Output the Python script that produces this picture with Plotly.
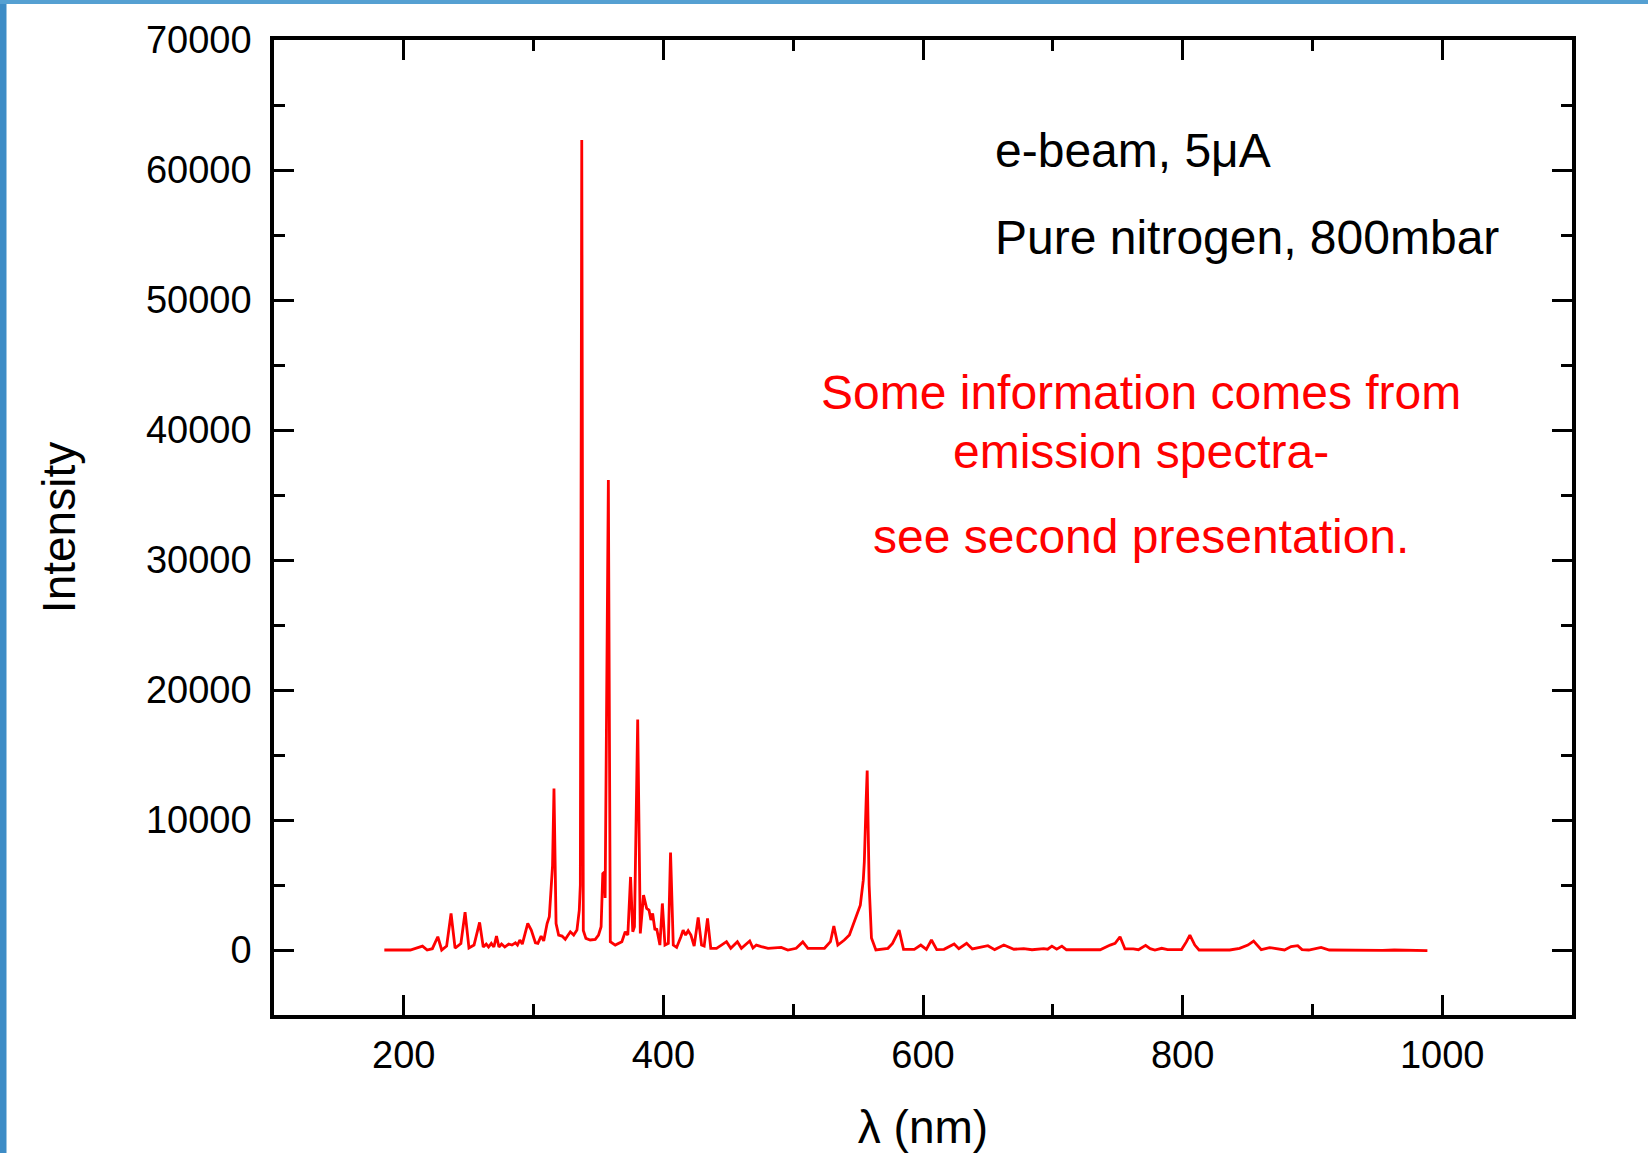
import plotly.graph_objects as go

# Emission spectrum
wavelength_nm = [
    185.0, 195.0, 201.6, 205.0, 214.4, 218.0, 222.0, 226.2, 229.2, 233.0,
    236.4, 239.5, 244.0, 247.2, 250.2, 254.1, 258.4, 261.2, 263.5, 265.3,
    267.4, 269.4, 271.4, 273.3, 275.3, 277.8, 280.8, 283.3, 286.0, 287.6,
    289.4, 291.3, 295.5, 298.2, 301.4, 303.3, 305.8, 307.8, 310.4, 312.1,
    314.6, 315.7, 317.3, 319.3, 321.9, 324.4, 328.3, 330.9, 333.4, 335.2,
    336.0, 337.1, 338.3, 340.3, 343.6, 347.5, 350.0, 352.0, 353.3, 354.6,
    355.1, 357.6, 359.1, 362.9, 368.0, 370.6, 372.6, 374.7, 376.4, 377.7,
    380.2, 382.2, 384.7, 387.1, 388.9, 390.4, 391.7, 393.5, 394.8, 397.3,
    399.2, 401.2, 403.8, 405.5, 407.6, 410.2, 413.5, 415.2, 417.1, 419.1,
    421.2, 423.7, 426.8, 429.4, 431.4, 434.0, 436.5, 440.9, 444.7, 448.6,
    451.9, 457.0, 460.1, 466.5, 469.0, 471.6, 475.4, 480.6, 490.8, 495.9,
    502.3, 507.4, 511.3, 524.1, 528.7, 531.3, 534.4, 539.4, 543.3, 547.7,
    551.7, 554.0, 554.8, 556.2, 557.0, 558.5, 560.3, 563.7, 567.6, 573.0,
    576.5, 581.6, 585.0, 593.3, 598.3, 602.6, 606.5, 610.6, 616.2, 624.0,
    627.6, 633.6, 638.0, 650.0, 655.2, 662.3, 670.0, 677.6, 684.0, 693.0,
    696.0, 699.3, 703.0, 707.0, 710.5, 721.1, 728.0, 736.5, 744.2, 748.0,
    751.8, 755.6, 762.0, 766.0, 771.5, 775.0, 778.7, 783.9, 788.5, 799.2,
    803.0, 805.6, 809.4, 812.7, 836.3, 843.9, 850.3, 854.7, 860.6, 867.0,
    871.0, 878.5, 883.6, 888.7, 892.0, 897.2, 906.7, 913.0, 954.0, 963.0,
    988.6,
]
intensity = [
    0, 0, 30, 0, 300, 0, 100, 1020, 0, 300,
    2810, 150, 500, 2910, 150, 380, 2120, 230, 450, 230,
    510, 230, 1070, 230, 460, 230, 460, 380, 560, 380,
    770, 460, 2040, 1530, 560, 510, 1070, 700, 2040, 2560,
    6500, 12430, 2040, 1150, 1070, 820, 1400, 1150, 1530, 3070,
    5000, 62300, 1500, 890, 770, 820, 1150, 1790, 5880, 6000,
    4000, 36150, 640, 380, 640, 1400, 1150, 5620, 1400, 1790,
    17730, 1280, 4220, 3200, 3070, 2300, 2810, 1530, 1660, 380,
    3580, 380, 510, 7500, 380, 200, 1020, 1530, 1150, 1480,
    1150, 300, 2500, 380, 300, 2430, 130, 130, 380, 640,
    130, 640, 130, 690, 150, 380, 260, 130, 200, 0,
    130, 620, 130, 130, 640, 1840, 380, 770, 1150, 2430,
    3450, 5370, 6800, 11500, 13800, 5000, 920, 0, 50, 130,
    510, 1530, 50, 50, 380, 50, 770, 30, 50, 460,
    100, 510, 80, 330, 30, 380, 60, 100, 20, 100,
    60, 300, 60, 300, 20, 0, 30, 20, 380, 510,
    1020, 80, 80, 20, 360, 100, 0, 130, 30, 30,
    640, 1150, 380, 0, 0, 130, 380, 690, 30, 180,
    130, 0, 260, 330, 30, 0, 200, 0, -30, 0,
    -50,
]

x_range = [100, 1100]
y_range = [-5000, 70000]
x_major = 200
x_minor = 100
y_major = 10000
y_minor = 5000

label_beam = "e-beam, 5μA"
label_gas = "Pure nitrogen, 800mbar"
note_lines = ["Some information comes from", "emission spectra-", "see second presentation."]

FONT = "Liberation Sans, Arial, sans-serif"
W, H = 1648, 1153
L, R, T, B = 274, 76, 40, 138
PW, PH = W - L - R, H - T - B


def px(xp):
    return (xp - L) / PW


def py(yp):
    return (H - B - yp) / PH


fig = go.Figure()
fig.add_trace(go.Scatter(
    x=wavelength_nm, y=intensity, mode="lines",
    line=dict(color="#ff0000", width=2.8), showlegend=False,
    hoverinfo="x+y",
))

axis_common = dict(
    showline=True, linecolor="black", linewidth=3.5, mirror="allticks",
    ticks="inside", tickcolor="black", tickwidth=3, ticklen=20,
    showgrid=False, zeroline=False,
    tickfont=dict(family=FONT, size=38, color="black"),
)

fig.update_xaxes(
    **axis_common, range=x_range, tick0=0, dtick=x_major,
    minor=dict(ticks="inside", ticklen=11, tickwidth=3, tickcolor="black", dtick=x_minor, tick0=0, showgrid=False),
    title=dict(text="λ (nm)", font=dict(family=FONT, size=46, color="black"), standoff=36),
    ticklabelstandoff=4,
)
fig.update_yaxes(
    **axis_common, range=y_range, tick0=0, dtick=y_major, tickformat="d",
    minor=dict(ticks="inside", ticklen=11, tickwidth=3, tickcolor="black", dtick=y_minor, tick0=0, showgrid=False),
    title=dict(text="Intensity", font=dict(family=FONT, size=46, color="black"), standoff=57),
    ticklabelstandoff=11,
)

annotations = [
    dict(text=label_beam, x=px(993), y=py(151), xanchor="left", yanchor="middle",
         font=dict(family=FONT, size=48, color="black")),
    dict(text=label_gas, x=px(993), y=py(237.5), xanchor="left", yanchor="middle",
         font=dict(family=FONT, size=48, color="black")),
    dict(text=note_lines[0], x=px(1141), y=py(393), xanchor="center", yanchor="middle",
         font=dict(family=FONT, size=48, color="#ff0000")),
    dict(text=note_lines[1], x=px(1141), y=py(451), xanchor="center", yanchor="middle",
         font=dict(family=FONT, size=48, color="#ff0000")),
    dict(text=note_lines[2], x=px(1141), y=py(536.5), xanchor="center", yanchor="middle",
         font=dict(family=FONT, size=48, color="#ff0000")),
]
for a in annotations:
    a.update(xref="paper", yref="paper", showarrow=False)

# slide frame strips (blue) at top and left edge
shapes = [
    dict(type="rect", xref="paper", yref="paper", x0=px(0), x1=px(6.5), y0=py(H), y1=py(0),
         fillcolor="#3d8cc6", line=dict(width=0), layer="above"),
    dict(type="rect", xref="paper", yref="paper", x0=px(0), x1=px(W), y0=py(4), y1=py(0),
         fillcolor="#55a0d2", line=dict(width=0), layer="above"),
]

fig.update_layout(
    width=W, height=H,
    margin=dict(l=L, r=R, t=T, b=B, autoexpand=False),
    paper_bgcolor="white", plot_bgcolor="white",
    annotations=annotations, shapes=shapes,
    font=dict(family=FONT, color="black"),
)

fig.write_html("out.html")
